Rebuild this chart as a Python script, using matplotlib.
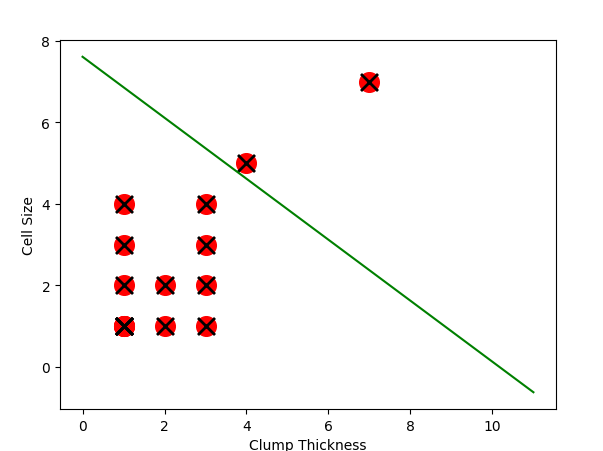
import matplotlib
matplotlib.use("Agg")
import matplotlib.pyplot as plt

# pontos (Clump Thickness, Cell Size)
clump = [1, 1, 1, 1, 1, 1, 1, 2, 2, 3, 3, 3, 3, 4, 7]
cell = [1, 1, 1, 2, 3, 4, 1, 1, 2, 1, 2, 3, 4, 5, 7]

# fronteira de decisao
linha_x = [0, 11]
linha_y = [7.61, -0.62]

fig = plt.figure(figsize=(6.03, 4.52), dpi=100)
ax = fig.add_axes([0.0995, 0.0929, 0.8225, 0.8164])

ax.scatter(clump, cell, s=200, c='red')
ax.scatter(clump, cell, s=150, c='black', marker='x', linewidths=2)
ax.plot(linha_x, linha_y, color='green')

ax.set_xlabel("Clump Thickness")
ax.set_ylabel("Cell Size")

fig.savefig("out.png", dpi=100)
